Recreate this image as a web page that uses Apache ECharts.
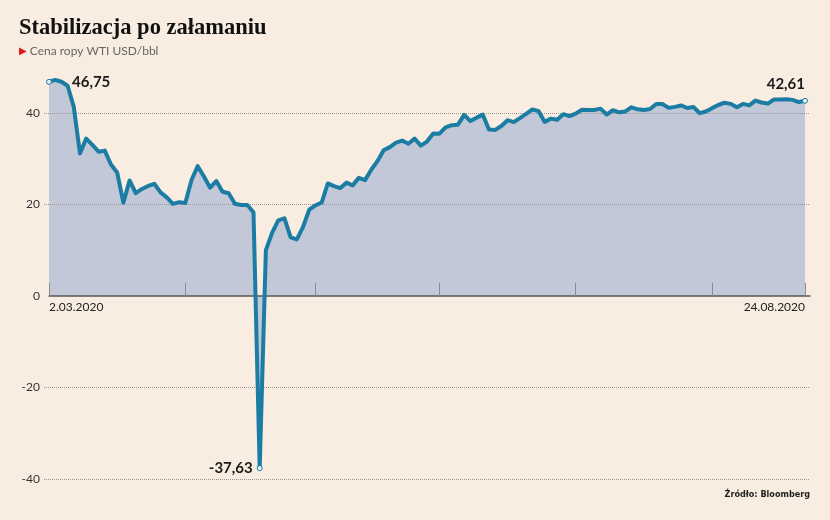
<!DOCTYPE html>
<html>
<head>
<meta charset="utf-8">
<script src="https://cdn.jsdelivr.net/npm/echarts@6/dist/echarts.min.js"></script>
<style>
html,body{margin:0;padding:0;background:#f9ede1;}
#chart{width:830px;height:520px;}
</style>
</head>
<body>
<div id="chart"></div>
<script>
// ---- data ----
const dates = [
  "2.03.2020","3.03.2020","4.03.2020","5.03.2020","6.03.2020","9.03.2020","10.03.2020","11.03.2020","12.03.2020","13.03.2020","16.03.2020","17.03.2020","18.03.2020","19.03.2020","20.03.2020","23.03.2020","24.03.2020","25.03.2020","26.03.2020","27.03.2020","30.03.2020","31.03.2020",
  "1.04.2020","2.04.2020","3.04.2020","6.04.2020","7.04.2020","8.04.2020","9.04.2020","13.04.2020","14.04.2020","15.04.2020","16.04.2020","17.04.2020","20.04.2020","21.04.2020","22.04.2020","23.04.2020","24.04.2020","27.04.2020","28.04.2020","29.04.2020","30.04.2020",
  "1.05.2020","4.05.2020","5.05.2020","6.05.2020","7.05.2020","8.05.2020","11.05.2020","12.05.2020","13.05.2020","14.05.2020","15.05.2020","18.05.2020","19.05.2020","20.05.2020","21.05.2020","22.05.2020","26.05.2020","27.05.2020","28.05.2020","29.05.2020",
  "1.06.2020","2.06.2020","3.06.2020","4.06.2020","5.06.2020","8.06.2020","9.06.2020","10.06.2020","11.06.2020","12.06.2020","15.06.2020","16.06.2020","17.06.2020","18.06.2020","19.06.2020","22.06.2020","23.06.2020","24.06.2020","25.06.2020","26.06.2020","29.06.2020","30.06.2020",
  "1.07.2020","2.07.2020","6.07.2020","7.07.2020","8.07.2020","9.07.2020","10.07.2020","13.07.2020","14.07.2020","15.07.2020","16.07.2020","17.07.2020","20.07.2020","21.07.2020","22.07.2020","23.07.2020","24.07.2020","27.07.2020","28.07.2020","29.07.2020","30.07.2020","31.07.2020",
  "3.08.2020","4.08.2020","5.08.2020","6.08.2020","7.08.2020","10.08.2020","11.08.2020","12.08.2020","13.08.2020","14.08.2020","17.08.2020","18.08.2020","19.08.2020","20.08.2020","21.08.2020","24.08.2020"
];
const prices = [
  46.75,47.18,46.78,45.90,41.28,31.13,34.36,32.98,31.50,31.73,28.70,26.95,20.37,25.22,22.43,23.36,24.01,24.49,22.60,21.51,20.09,20.48,
  20.31,25.32,28.34,26.08,23.63,25.09,22.76,22.41,20.11,19.87,19.87,18.27,-37.63,10.01,13.78,16.50,16.94,12.78,12.34,15.06,18.84,
  19.78,20.39,24.56,23.99,23.55,24.74,24.14,25.78,25.29,27.56,29.43,31.82,32.50,33.49,33.92,33.25,34.35,32.81,33.71,35.49,
  35.44,36.81,37.29,37.41,39.55,38.19,38.94,39.60,36.34,36.26,37.12,38.38,37.96,38.84,39.75,40.73,40.37,38.01,38.72,38.49,39.70,39.27,
  39.82,40.65,40.63,40.62,40.90,39.62,40.55,40.10,40.29,41.20,40.75,40.59,40.81,41.92,41.90,41.07,41.29,41.60,41.04,41.27,39.92,40.27,
  41.01,41.70,42.19,41.95,41.22,41.94,41.61,42.67,42.24,42.01,42.89,42.89,42.93,42.82,42.34,42.61
];
const yMin = -40, yMax = 50, yStep = 20;
const titleText = "Stabilizacja po załamaniu";
const subtitleText = "Cena ropy WTI USD/bbl";
const sourceText = "Źródło: Bloomberg";

// ---- derived ----
const lastIdx = dates.length - 1;
const monthOf = d => d.split(".")[1];
const tickIdx = [0];
dates.forEach((d, i) => { if (i > 0 && monthOf(d) !== monthOf(dates[i - 1])) tickIdx.push(i); });
tickIdx.push(lastIdx);
let minIdx = 0;
prices.forEach((v, i) => { if (v < prices[minIdx]) minIdx = i; });

const LINE = "#1b7da4";
const fmt = v => v.toFixed(2).replace(".", ",");
const labelBase = {show: true, fontFamily: "Lato", fontWeight: "bold", fontSize: 15, color: "#1a1a1a", formatter: p => fmt(p.value[1])};
const marker = {symbol: "circle", symbolSize: 5, itemStyle: {color: "#e9f3f6", borderColor: LINE, borderWidth: 1}};
const areaData = prices.map((v, i) => [i, v]);
const lineData = prices.map((v, i) => {
  const pt = [i, v];
  if (i === 0) return Object.assign({value: pt, label: Object.assign({}, labelBase, {position: "right", distance: 20})}, marker);
  if (i === minIdx) return Object.assign({value: pt, label: Object.assign({}, labelBase, {position: "left", distance: 4, offset: [0, -3]})}, marker);
  if (i === lastIdx) return Object.assign({value: pt, label: Object.assign({}, labelBase, {position: "top", align: "right", offset: [4, 0], distance: 6})}, marker);
  return {value: pt, symbol: "none"};
});

// plot scale: y = 0 sits at top + (yMax/(yMax-yMin)) * height
const G = {left: 49, right: 25, top: 67, bottom: 41};
const plotH = 520 - G.top - G.bottom;
const zeroFromBottom = G.bottom + plotH * (0 - yMin) / (yMax - yMin);

const chart = echarts.init(document.getElementById("chart"), null, {renderer: "canvas"});
chart.setOption({
  backgroundColor: "#f9ede1",
  animation: false,
  title: [
    {
      text: titleText, left: 19, top: 17, itemGap: 5, padding: 0,
      textStyle: {fontFamily: "Liberation Serif", fontWeight: "bold", fontSize: 22.5, color: "#111"},
      subtext: "{t|▶}{s| " + subtitleText + "}",
      subtextStyle: {rich: {
        t: {fontFamily: "DejaVu Sans", fontSize: 10, color: "#e2161c"},
        s: {fontFamily: "Lato", fontSize: 12, color: "#666"}
      }}
    },
    {
      text: sourceText, right: 20, top: 490, padding: 0,
      textStyle: {fontFamily: "'DejaVu Sans Condensed', Roboto, sans-serif", fontWeight: "bold", fontSize: 9, color: "#222"}
    }
  ],
  grid: [
    {left: G.left, right: G.right, top: G.top, bottom: G.bottom},
    {left: 44, right: 20, top: G.top, bottom: G.bottom},
    {left: G.left, right: 20, top: G.top, bottom: zeroFromBottom},
    {left: G.left, right: G.right, top: G.top, bottom: zeroFromBottom}
  ],
  xAxis: [
    {gridIndex: 0, type: "value", min: 0, max: lastIdx, show: false},
    {gridIndex: 1, type: "value", min: 0, max: 1, show: false},
    {
      gridIndex: 2, type: "value", min: 0, max: 1, position: "bottom", z: 3,
      axisLine: {show: true, onZero: false, lineStyle: {color: "#555", width: 1.5}},
      axisTick: {show: false}, axisLabel: {show: false}, splitLine: {show: false}
    },
    {
      gridIndex: 3, type: "value", min: 0, max: lastIdx, position: "bottom", z: 3,
      axisLine: {show: false, onZero: false},
      axisTick: {show: true, inside: true, length: 13, customValues: tickIdx, lineStyle: {color: "#8c8c8c", width: 1}},
      axisLabel: {
        customValues: [0, lastIdx], margin: 5,
        formatter: v => dates[Math.round(v)] || "",
        alignMinLabel: "left", alignMaxLabel: "right",
        fontFamily: "Lato", fontSize: 12, color: "#222"
      },
      splitLine: {show: false}
    }
  ],
  yAxis: [
    {gridIndex: 0, type: "value", min: yMin, max: yMax, interval: yStep, show: false},
    {
      gridIndex: 1, type: "value", min: yMin, max: yMax, interval: yStep, z: 3,
      axisLine: {show: false}, axisTick: {show: false},
      axisLabel: {margin: 4, showMaxLabel: false, fontFamily: "Lato", fontSize: 12, color: "#333", padding: [0, 0, 5, 0]},
      splitLine: {show: true, lineStyle: {
        color: ["#9a9690", "#9a9690", "rgba(0,0,0,0)", "#9a9690", "#9a9690", "rgba(0,0,0,0)"],
        type: "dotted", width: 1
      }}
    },
    {gridIndex: 2, type: "value", min: 0, max: yMax, show: false},
    {gridIndex: 3, type: "value", min: 0, max: yMax, show: false}
  ],
  series: [
    {
      type: "line", xAxisIndex: 0, yAxisIndex: 0, data: areaData, z: 2,
      symbol: "none", lineStyle: {width: 0}, areaStyle: {color: "#c2c8d7", opacity: 1},
      silent: true
    },
    {
      type: "line", xAxisIndex: 0, yAxisIndex: 0, data: lineData, z: 4,
      showSymbol: true, showAllSymbol: true,
      lineStyle: {color: LINE, width: 4, join: "round", cap: "round"},
      itemStyle: {color: LINE},
      labelLayout: {hideOverlap: false}
    }
  ]
});
</script>
</body>
</html>
